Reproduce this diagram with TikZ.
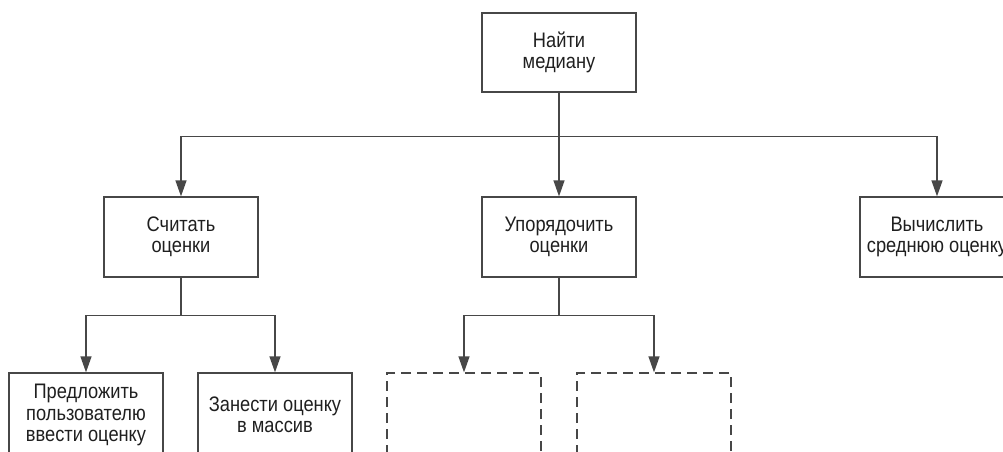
\documentclass[tikz,border=0pt]{standalone}
\usepackage{fontspec}
\setmainfont[FakeStretch=0.87]{Liberation Sans}
\usetikzlibrary{arrows.meta}

\begin{document}
\begin{tikzpicture}[x=1pt, y=1pt,
    box/.style={draw=black!72, line width=1.3pt, minimum width=154pt, minimum height=80pt,
                align=center, inner sep=0pt, text=black!88,
                font=\fontsize{21}{21.5}\selectfont},
    leaf/.style={box, minimum height=84pt},
    stub/.style={leaf, dash pattern=on 10pt off 6pt},
    arr/.style={draw=black!72, line width=1.3pt, -{Triangle[length=16pt, width=11pt]}},
    link/.style={draw=black!72, line width=1.3pt}]
\useasboundingbox (0,0) rectangle (1003,-451);
\node[box, minimum height=79pt] (find) at (559,-52.5) {Найти\\медиану};
\node[box] (read) at (181,-237) {Считать\\оценки};
\node[box] (sort) at (559,-237) {Упорядочить\\оценки};
\node[box] (mean) at (937,-237) {Вычислить\\среднюю оценку};
\node[leaf] (ask) at (86,-415) {Предложить\\пользователю\\ввести оценку};
\node[leaf] (store) at (275,-415) {Занести оценку\\в массив};
\node[stub] (sorta) at (464,-415) {};
\node[stub] (sortb) at (654,-415) {};
\coordinate (forktop) at ([yshift=-44pt]find.south);
\coordinate (forkread) at ([yshift=-38pt]read.south);
\coordinate (forksort) at ([yshift=-38pt]sort.south);
\draw[link] (find) -- (forktop);
\draw[arr] (forktop) -| (read);
\draw[arr] (forktop) -- (sort);
\draw[arr] (forktop) -| (mean);
\draw[link] (read) -- (forkread);
\draw[arr] (forkread) -| (ask);
\draw[arr] (forkread) -| (store);
\draw[link] (sort) -- (forksort);
\draw[arr] (forksort) -| (sorta);
\draw[arr] (forksort) -| (sortb);
\end{tikzpicture}
\end{document}
